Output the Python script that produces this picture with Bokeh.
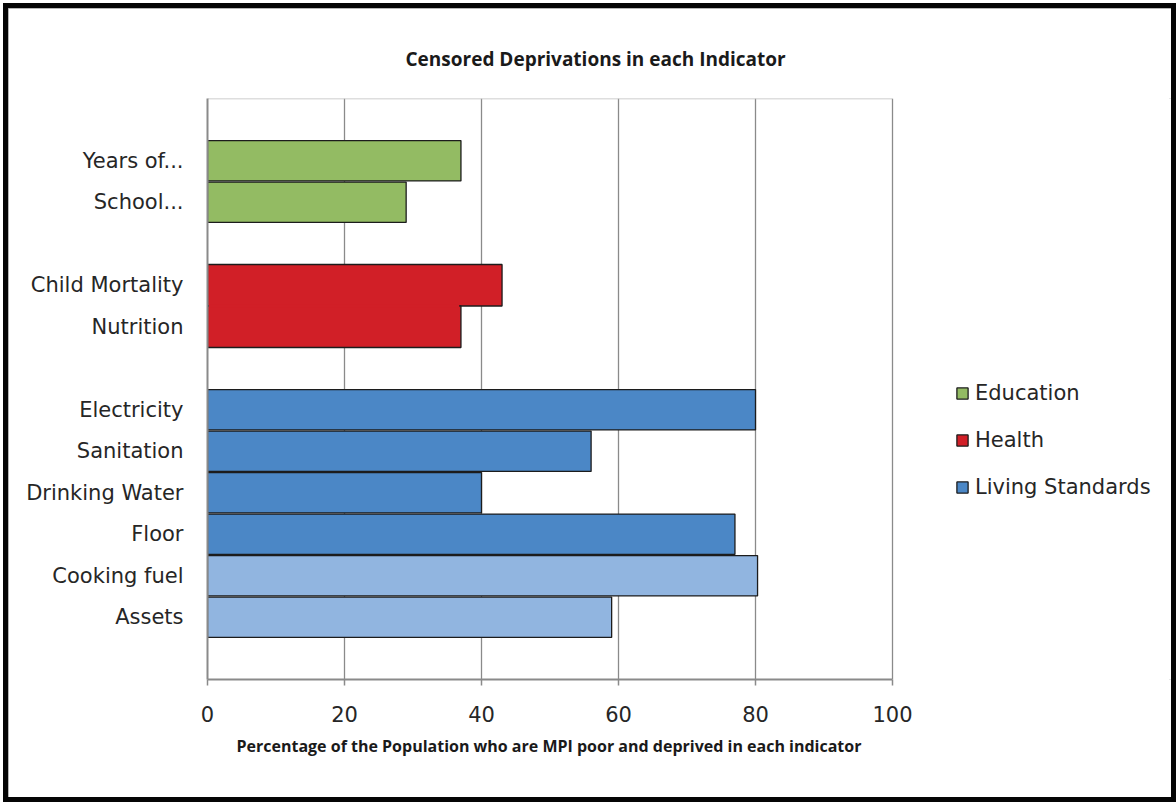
from bokeh.plotting import figure
from bokeh.models import Range1d, FixedTicker, Legend, LegendItem, ColumnDataSource, Title
from bokeh.embed import file_html
from bokeh.resources import INLINE

# Indicators of the Multidimensional Poverty Index, grouped by dimension
dimensions = ["Education", "Health", "Living Standards"]
indicators = ["Years of...", "School...", "Child Mortality", "Nutrition",
              "Electricity", "Sanitation", "Drinking Water", "Floor",
              "Cooking fuel", "Assets"]
indicator_dimension = ["Education", "Education", "Health", "Health",
                       "Living Standards", "Living Standards", "Living Standards",
                       "Living Standards", "Living Standards", "Living Standards"]
# Percentage of the population who are MPI poor and deprived in each indicator
censored_headcount = [37, 29, 43, 37, 80, 56, 40, 77, 80.3, 59]
x_ticks = [0, 20, 40, 60, 80, 100]

# styling
dim_colors = {"Education": "#93BB63", "Health": "#D11F27", "Living Standards": "#4B87C6"}
light_blue = "#91B5E0"
light_rows = {"Cooking fuel", "Assets"}
edge = "#1c1c1c"
axis_grey = "#8a8a8a"
box_grey = "#bdbdbd"
text_color = "#262626"
label_font = "DejaVu Sans"
bar_h = 0.97

# canvas geometry: the plotting box (0..100) sits on the left, the legend to its right
canvas_w, canvas_h = 1173, 799
left_px, top_px, bottom_px = 199, 90, 128
box_px = 685
frame_px = canvas_w - left_px
x_end = x_ticks[-1] * frame_px / box_px

# one empty row between dimension groups, and above / below the groups
slots = [i + dimensions.index(d) + 1 for i, d in enumerate(indicator_dimension)]
n_rows = slots[-1] + 2

p = figure(width=canvas_w, height=canvas_h,
           x_range=Range1d(0, x_end), y_range=Range1d(n_rows - 0.5, -0.5),
           output_backend="svg", toolbar_location=None,
           min_border_left=left_px, min_border_top=top_px, min_border_right=0,
           min_border_bottom=bottom_px,
           styles={"border": "5px solid #050505", "margin": "3px 0 0 3px",
                   "outline": "2px solid #9c9c9c", "outline-offset": "-7px"})

p.background_fill_color = "white"
p.border_fill_color = "white"
p.outline_line_color = None

p.title.text = "Censored  Deprivations in each Indicator"
p.title.align = "left"
p.title.offset = 198
p.title.text_font = "Open Sans"
p.title.text_font_size = "19px"
p.title.text_font_style = "bold"
p.title.text_color = "#1a1a1a"
p.title.standoff = 54

renderers = {}
for d in dimensions:
    idx = [i for i, dd in enumerate(indicator_dimension) if dd == d]
    fills = [light_blue if indicators[i] in light_rows else dim_colors[d] for i in idx]
    merged = d == "Health"
    h = 1.0 if merged else bar_h
    src = ColumnDataSource(dict(
        y=[slots[i] for i in idx],
        right=[censored_headcount[i] for i in idx],
        name=[indicators[i] for i in idx],
        fill=fills,
    ))
    renderers[d] = p.hbar(y="y", right="right", left=0, height=h, source=src,
                          fill_color="fill", line_color=edge, line_width=1.3)
    if merged:
        # the Health bars touch: paint over the shared edge so they read as one shape
        x1 = [min(censored_headcount[a], censored_headcount[b]) - 0.25
              for a, b in zip(idx[:-1], idx[1:])]
        yb = [slots[a] + h / 2 for a in idx[:-1]]
        p.segment(x0=[0.2] * len(x1), y0=yb, x1=x1, y1=yb,
                  line_color=dim_colors[d], line_width=2.6)

# top edge of the plotting box
p.line([x_ticks[0], x_ticks[-1]], [p.y_range.end, p.y_range.end],
       line_color=box_grey, line_width=1.5)

# axes
p.xgrid.ticker = FixedTicker(ticks=x_ticks)
p.xgrid.grid_line_color = axis_grey
p.xgrid.grid_line_width = 1.3
p.ygrid.grid_line_color = None

xa = p.xaxis[0]
xa.ticker = FixedTicker(ticks=x_ticks)
xa.bounds = (x_ticks[0], x_ticks[-1])
xa.axis_line_color = axis_grey
xa.axis_line_width = 2
xa.major_tick_line_color = axis_grey
xa.major_tick_line_width = 1.5
xa.major_tick_out = 6
xa.major_tick_in = 0
xa.minor_tick_line_color = None
xa.major_label_text_font = label_font
xa.major_label_text_font_size = "21px"
xa.major_label_text_color = text_color
xa.major_label_standoff = 20

p.add_layout(Title(text="Percentage of the Population  who are MPI poor and deprived in each indicator",
                   align="left", offset=29, standoff=16,
                   text_font="Open Sans", text_font_size="16px", text_font_style="bold",
                   text_color="#1a1a1a"), "below")

ya = p.yaxis[0]
ya.ticker = FixedTicker(ticks=slots)
ya.major_label_overrides = {s: name for s, name in zip(slots, indicators)}
ya.axis_line_color = axis_grey
ya.axis_line_width = 2
ya.major_tick_line_color = None
ya.minor_tick_line_color = None
ya.major_label_text_font = label_font
ya.major_label_text_font_size = "21px"
ya.major_label_text_color = text_color
ya.major_label_standoff = 18

legend = Legend(items=[LegendItem(label=d, renderers=[renderers[d]], index=0) for d in dimensions],
                location=(748, 180), orientation="vertical",
                glyph_width=14, glyph_height=14, label_height=14,
                spacing=23, padding=0, margin=0, label_standoff=6,
                border_line_color=None, background_fill_alpha=0,
                label_text_font=label_font, label_text_font_size="21px",
                label_text_color=text_color)
p.add_layout(legend, "center")

open("out.html", "w").write(file_html(p, INLINE))
